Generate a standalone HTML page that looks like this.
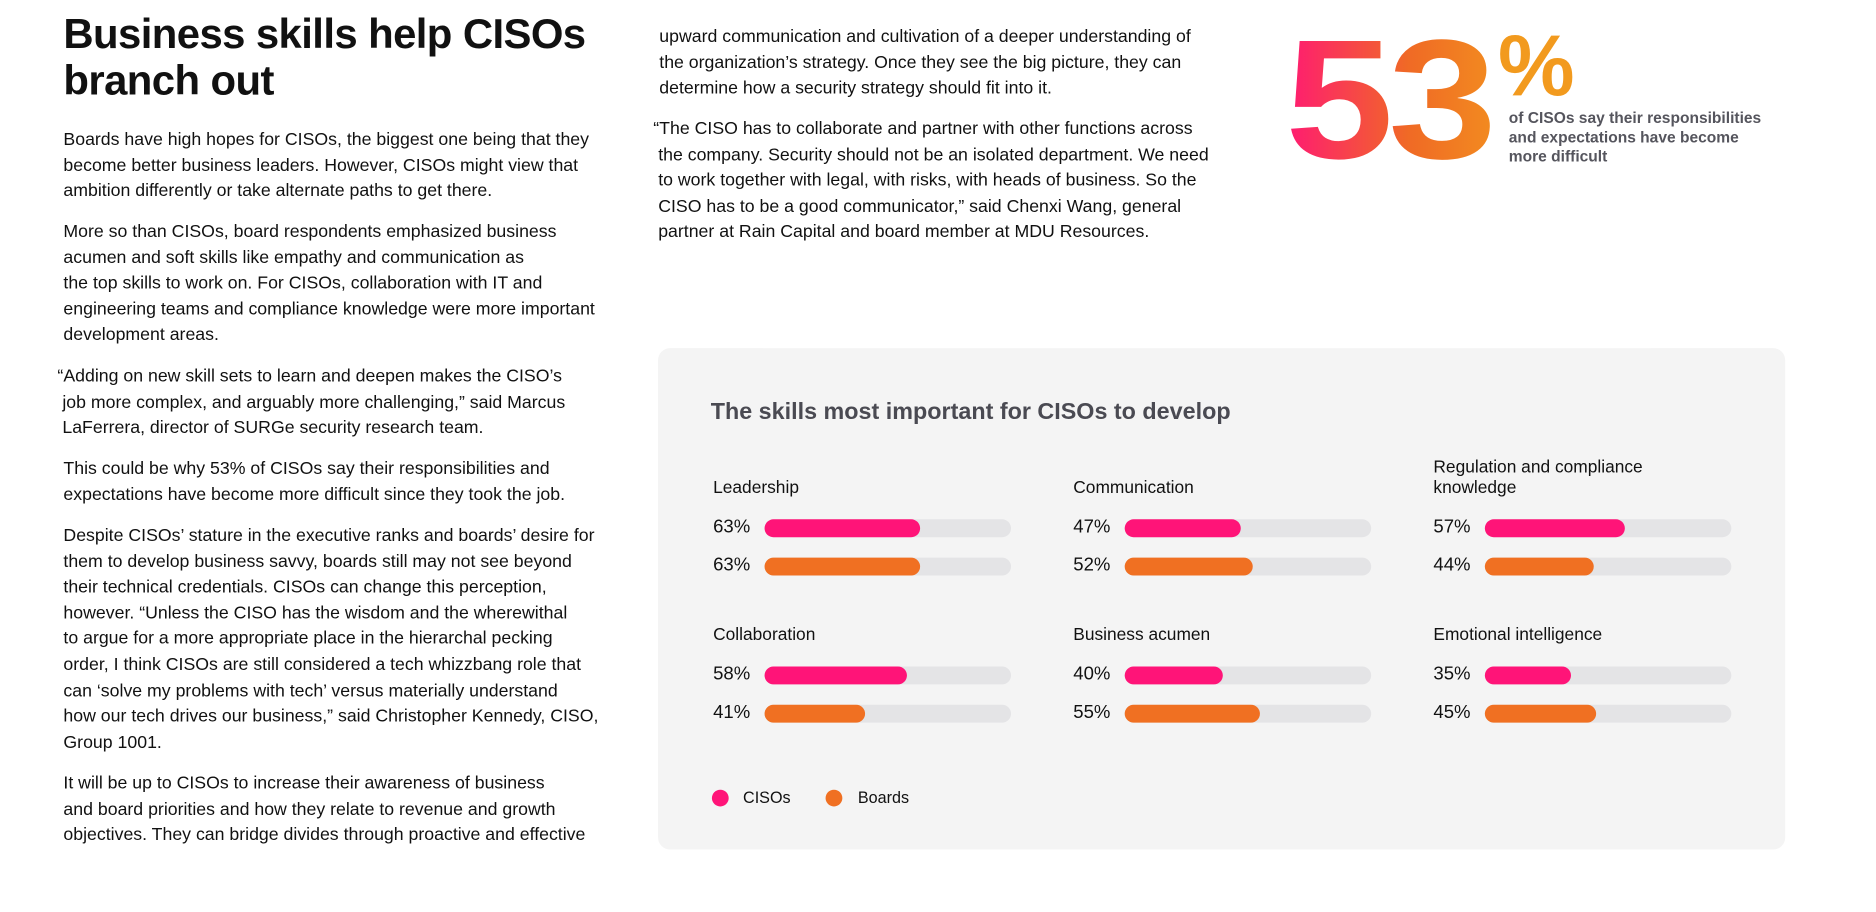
<!DOCTYPE html>
<html><head><meta charset="utf-8"><style>
html,body{margin:0;padding:0;background:#fff;width:1876px;height:912px;overflow:hidden}
#wrap{position:absolute;left:0;top:0;width:1568px;height:762px;transform:scale(1.1965);transform-origin:0 0;font-family:"Liberation Sans",sans-serif;color:#111}
.p{position:absolute;font-size:14.8px;line-height:21.6px;margin:0;letter-spacing:0}
h1{position:absolute;left:53px;top:9px;margin:0;font-size:35px;line-height:39px;font-weight:bold;letter-spacing:-0.5px}
#big{position:absolute;left:1074px;top:4px;font-size:142px;font-weight:bold;letter-spacing:-4px;line-height:160px;transform:scaleX(1.15);transform-origin:0 0;background:linear-gradient(90deg,#ff1a73,#f06a25 60%,#f28a20);-webkit-background-clip:text;background-clip:text;color:transparent}
#pct{position:absolute;left:1252px;top:16px;font-size:72px;font-weight:bold;color:#f29a1e;line-height:80px}
#cap{position:absolute;left:1261px;top:91px;font-size:13px;line-height:16px;font-weight:bold;color:#55555d}
#card{position:absolute;left:550px;top:291px;width:942px;height:419px;background:#f4f4f4;border-radius:10px}
#ctitle{position:absolute;left:594px;top:333px;font-size:19.5px;font-weight:bold;color:#4a4a52}
.lab{position:absolute;font-size:14.5px;line-height:17px}
.val{position:absolute;font-size:15.5px;line-height:16px}
.track{position:absolute;height:15px;border-radius:8px;background:#e4e4e6}
.fill{position:absolute;left:0;top:0;height:15px;border-radius:8px}
.dot{position:absolute;width:14px;height:14px;border-radius:7px}
.leg{position:absolute;font-size:13.5px}
</style></head><body>
<div id="wrap">
<h1>Business skills help CISOs<br>branch out</h1>
<p class="p" style="left:53px;top:107px">Boards have high hopes for CISOs, the biggest one being that they<br>become better business leaders. However, CISOs might view that<br>ambition differently or take alternate paths to get there.</p>
<p class="p" style="left:53px;top:184px">More so than CISOs, board respondents emphasized business<br>acumen and soft skills like empathy and communication as<br>the top skills to work on. For CISOs, collaboration with IT and<br>engineering teams and compliance knowledge were more important<br>development areas.</p>
<p class="p" style="left:48px;top:305px">“Adding on new skill sets to learn and deepen makes the CISO’s<br>&nbsp;job more complex, and arguably more challenging,” said Marcus<br>&nbsp;LaFerrera, director of SURGe security research team.</p>
<p class="p" style="left:53px;top:382px">This could be why 53% of CISOs say their responsibilities and<br>expectations have become more difficult since they took the job.</p>
<p class="p" style="left:53px;top:438px">Despite CISOs’ stature in the executive ranks and boards’ desire for<br>them to develop business savvy, boards still may not see beyond<br>their technical credentials. CISOs can change this perception,<br>however. “Unless the CISO has the wisdom and the wherewithal<br>to argue for a more appropriate place in the hierarchal pecking<br>order, I think CISOs are still considered a tech whizzbang role that<br>can ‘solve my problems with tech’ versus materially understand<br>how our tech drives our business,” said Christopher Kennedy, CISO,<br>Group 1001.</p>
<p class="p" style="left:53px;top:645px">It will be up to CISOs to increase their awareness of business<br>and board priorities and how they relate to revenue and growth<br>objectives. They can bridge divides through proactive and effective</p>
<p class="p" style="left:551px;top:21px">upward communication and cultivation of a deeper understanding of<br>the organization’s strategy. Once they see the big picture, they can<br>determine how a security strategy should fit into it.</p>
<p class="p" style="left:546px;top:98px">“The CISO has to collaborate and partner with other functions across<br>&nbsp;the company. Security should not be an isolated department. We need<br>&nbsp;to work together with legal, with risks, with heads of business. So the<br>&nbsp;CISO has to be a good communicator,” said Chenxi Wang, general<br>&nbsp;partner at Rain Capital and board member at MDU Resources.</p>
<div id="big">53</div>
<div id="pct">%</div>
<div id="cap">of CISOs say their responsibilities<br>and expectations have become<br>more difficult</div>
<div id="card"></div>
<div id="ctitle">The skills most important for CISOs to develop</div>
<div id="chart"></div>
<div class="dot" style="left:595px;top:660px;background:#ff1478"></div>
<div class="leg" style="left:621px;top:659px">CISOs</div>
<div class="dot" style="left:690px;top:660px;background:#f07022"></div>
<div class="leg" style="left:717px;top:659px">Boards</div>
</div>
<script>
const categories=["Leadership","Communication","Regulation and compliance knowledge","Collaboration","Business acumen","Emotional intelligence"];
const cisoValues=[63,47,57,58,40,35];
const boardValues=[63,52,44,41,55,45];
const colX=[596,897,1198],rowY=[441,564],trackW=206;
const chart=document.getElementById('chart');
function xScale(v){return v/100*trackW;}
function add(cls,style,name,text){const d=document.createElement('div');d.className=cls;d.style.cssText=style;


if(text!==undefined)d.textContent=text;return d;}
categories.forEach((c,i)=>{
 const x=colX[i%3],y=rowY[Math.floor(i/3)];
 const lab=add('lab','left:'+x+'px;top:'+(y-41)+'px;width:200px','category-label',c);
 if(c.length>30){lab.innerHTML='Regulation and compliance<br>knowledge';lab.style.top=(y-58)+'px';}
 chart.appendChild(lab);
 [[cisoValues[i],'#ff1478','ciso',0],[boardValues[i],'#f07022','board',32]].forEach(s=>{
  chart.appendChild(add('val','left:'+x+'px;top:'+(y+s[3]-8)+'px','value-'+s[2],s[0]+'%'));
  const t=add('track','left:'+(x+43)+'px;top:'+(y+s[3]-7)+'px;width:'+trackW+'px','bar-track');
  const f=add('fill','width:'+xScale(s[0])+'px;background:'+s[1],'bar-'+s[2]);
  t.appendChild(f);chart.appendChild(t);
 });
});
</script>
</body></html>
